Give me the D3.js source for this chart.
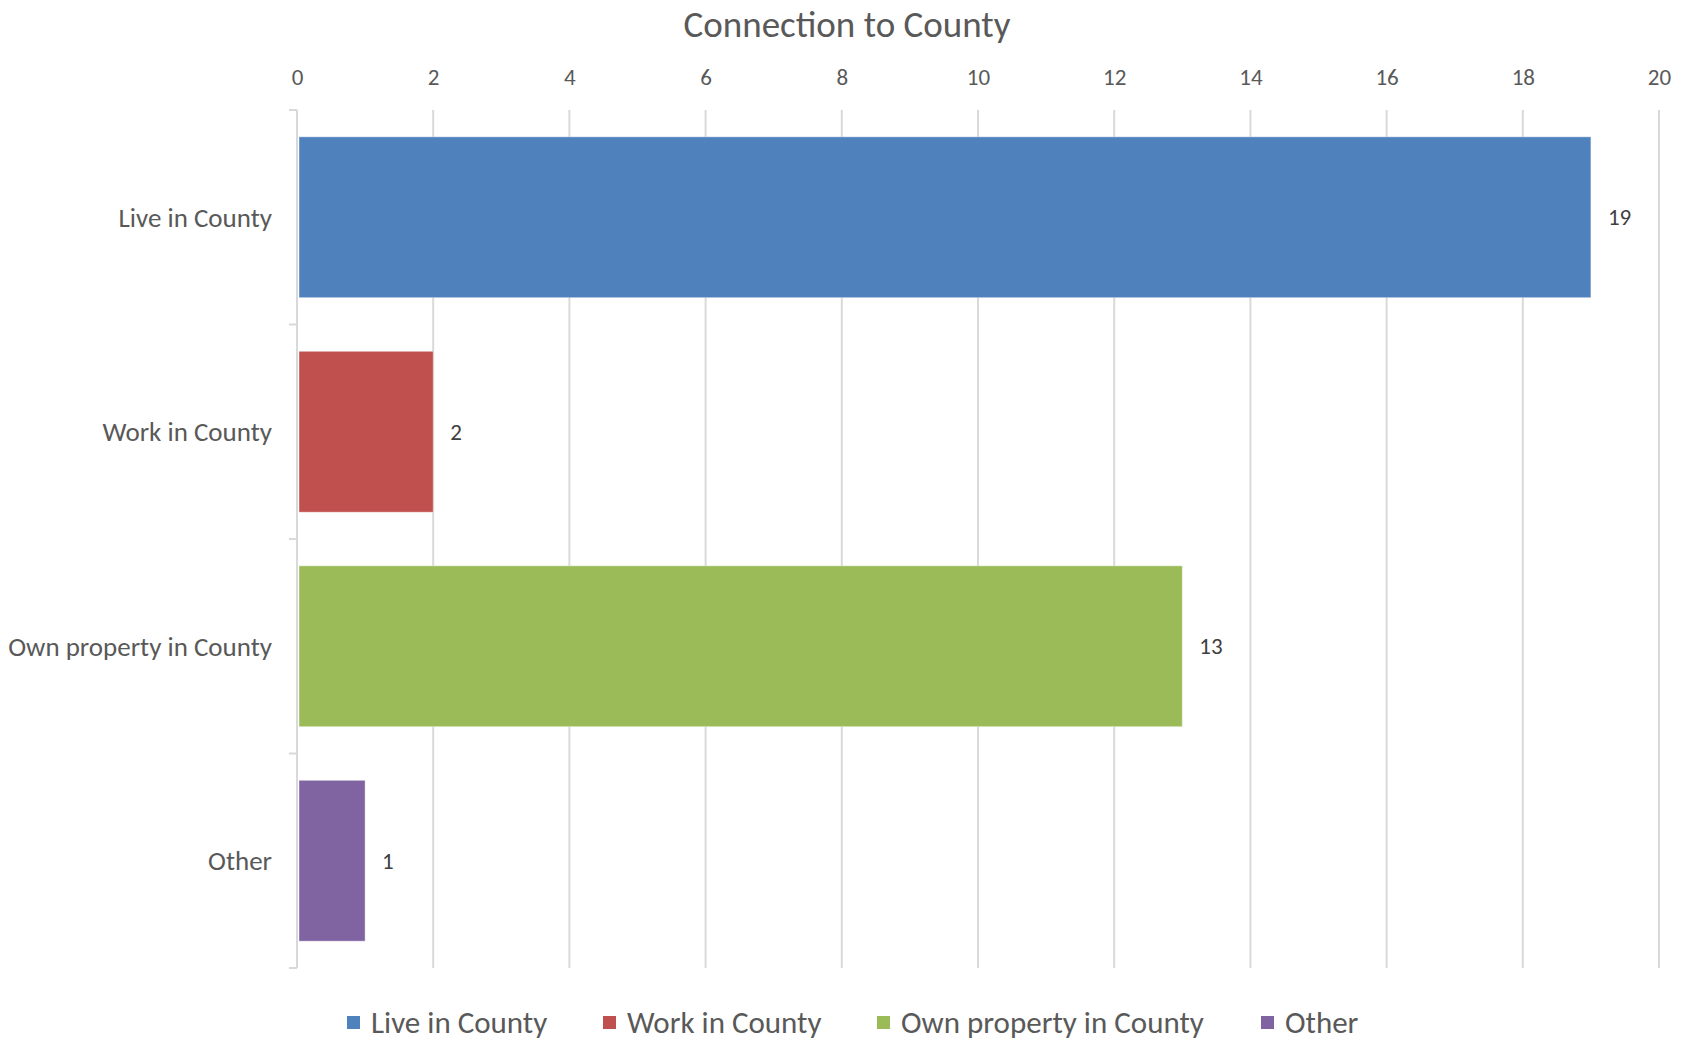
<!DOCTYPE html>
<html>
<head>
<meta charset="utf-8">
<script src="https://cdn.jsdelivr.net/npm/d3@7"></script>
<style>
  body { margin: 0; background: #fff; }
  svg text { font-family: Calibri, Carlito, Lato, sans-serif; }
</style>
</head>
<body>
<svg id="chart" width="1686" height="1041"></svg>
<script>
// data
var categories = ["Live in County", "Work in County", "Own property in County", "Other"];
var values = [19, 2, 13, 1];
var colors = ["#4F81BD", "#C0504D", "#9BBB59", "#8064A2"];
var xTicks = [0, 2, 4, 6, 8, 10, 12, 14, 16, 18, 20];
var title = "Connection to County";

var W = 1686, H = 1041;
var margin = {left: 297, right: 27, top: 110, bottom: 73};
var width = W - margin.left - margin.right;
var height = H - margin.top - margin.bottom;

var svg = d3.select("svg#chart");
var g = svg.append("g").attr("transform", "translate(" + margin.left + "," + margin.top + ")");

var x = d3.scaleLinear().domain([0, 20]).range([0, width]);
var y = d3.scaleBand().domain(categories).range([0, height]).paddingInner(0.25).paddingOuter(0.125);

// title
svg.append("text").attr("x", 847).attr("y", 24).attr("dy", "0.35em").attr("text-anchor", "middle")
    .style("font-size", "37px").attr("fill", "#595959").text(title);

// gridlines
g.append("g").selectAll("line").data(xTicks.slice(1)).enter().append("line")
    .attr("x1", function(d) { return x(d); }).attr("x2", function(d) { return x(d); })
    .attr("y1", 0).attr("y2", height)
    .attr("stroke", "#d9d9d9").attr("stroke-width", 2);

// top axis labels
var xAxis = d3.axisTop(x).tickValues(xTicks).tickSize(0).tickPadding(0);
var xg = g.append("g").attr("transform", "translate(0,-25)").call(xAxis);
xg.select(".domain").remove();
xg.selectAll("text").style("font-size", "23px").attr("fill", "#595959")
    .attr("font-family", null);

// left axis with ticks at band edges
var edges = d3.range(categories.length + 1).map(function(i) { return i * height / categories.length; });
g.append("line").attr("x1", 0).attr("x2", 0).attr("y1", 0).attr("y2", height)
    .attr("stroke", "#d9d9d9").attr("stroke-width", 2);
g.append("g").selectAll("line").data(edges).enter().append("line")
    .attr("x1", -8).attr("x2", 0)
    .attr("y1", function(d) { return d; }).attr("y2", function(d) { return d; })
    .attr("stroke", "#d9d9d9").attr("stroke-width", 2);

// category labels
g.append("g").selectAll("text").data(categories).enter().append("text")
    .attr("x", -25).attr("y", function(d) { return y(d) + y.bandwidth() / 2; })
    .attr("dy", "0.35em").attr("text-anchor", "end")
    .style("font-size", "27px").attr("fill", "#595959").text(function(d) { return d; });

// bars
g.append("g").selectAll("rect").data(categories).enter().append("rect")
    .attr("x", x(0) + 2).attr("y", function(d) { return y(d); })
    .attr("width", function(d, i) { return x(values[i]) - x(0) - 2; })
    .attr("height", y.bandwidth())
    .attr("fill", function(d, i) { return colors[i]; })
    .attr("stroke", "#ffffff").attr("stroke-opacity", 0.4).attr("stroke-width", 1);

// data labels
g.append("g").selectAll("text").data(categories).enter().append("text")
    .attr("x", function(d, i) { return x(values[i]) + 17; })
    .attr("y", function(d) { return y(d) + y.bandwidth() / 2; })
    .attr("dy", "0.35em")
    .style("font-size", "23px").attr("fill", "#404040").text(function(d, i) { return values[i]; });

// legend
var legendX = [347, 603, 877, 1261];
var lg = svg.append("g");
var items = lg.selectAll("g").data(categories).enter().append("g")
    .attr("transform", function(d, i) { return "translate(" + legendX[i] + ",1022)"; });
items.append("rect").attr("x", 0).attr("y", -6).attr("width", 13).attr("height", 13)
    .attr("fill", function(d, i) { return colors[i]; });
items.append("text").attr("x", 24).attr("y", 0).attr("dy", "0.35em")
    .style("font-size", "31px").attr("fill", "#595959").text(function(d) { return d; });
</script>
</body>
</html>
